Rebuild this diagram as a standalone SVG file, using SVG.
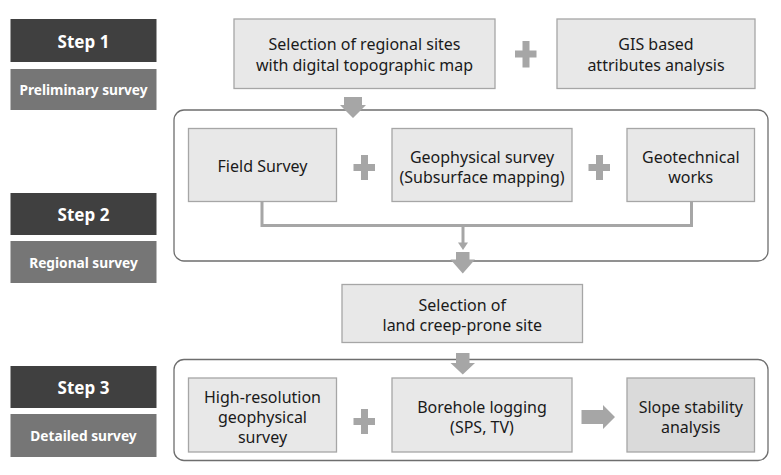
<svg xmlns="http://www.w3.org/2000/svg" width="781" height="475" viewBox="0 0 781 475">
<style>
.step{fill:#404040}
.sub{fill:#767676}
.stept{font-family:"Noto Sans",sans-serif;font-weight:bold;font-size:17px;fill:#fff;text-anchor:middle;dominant-baseline:central}
.subt{font-family:"Noto Sans",sans-serif;font-weight:bold;font-size:13.7px;fill:#fff;text-anchor:middle;dominant-baseline:central}
.node{fill:#e8e8e8;stroke:#a6a6a6;stroke-width:1.3}
.node2{fill:#dadada;stroke:#a6a6a6;stroke-width:1.3}
.t{font-family:"Noto Sans",sans-serif;font-size:16px;fill:#1a1a1a;text-anchor:middle;dominant-baseline:central}
.region{fill:none;stroke:#6e6e6e;stroke-width:1.3}
.g{fill:#a6a6a6}
.ln{fill:none;stroke:#a6a6a6;stroke-width:3}
</style>
<rect width="781" height="475" fill="#fff"/>
<g id="step1"><rect class="step" x="10.5" y="19" width="146" height="43"/><text class="stept" x="83.5" y="41">Step 1</text></g>
<g id="preliminary"><rect class="sub" x="10.5" y="69" width="146" height="41"/><text class="subt" x="83.5" y="89.5">Preliminary survey</text></g>
<g id="step2"><rect class="step" x="10.5" y="193" width="146" height="42"/><text class="stept" x="83.5" y="214">Step 2</text></g>
<g id="regional"><rect class="sub" x="10.5" y="241" width="146" height="42"/><text class="subt" x="83.5" y="262">Regional survey</text></g>
<g id="step3"><rect class="step" x="10.5" y="366" width="146" height="42"/><text class="stept" x="83.5" y="387">Step 3</text></g>
<g id="detailed"><rect class="sub" x="10.5" y="414" width="146" height="43"/><text class="subt" x="83.5" y="435.5">Detailed survey</text></g>

<g id="region2"><rect class="region" x="174" y="110" width="594" height="151" rx="10"/></g>
<g id="region3"><rect class="region" x="174" y="359.5" width="594" height="101" rx="10"/></g>

<g id="connectors">
<polyline class="ln" points="262,202 262,225.5 691.5,225.5 691.5,202"/>
<line class="ln" x1="463" y1="225.5" x2="463" y2="244"/>
<polygon class="g" points="458,242.5 468,242.5 463,250"/>
<polygon class="g" points="344,97 362,97 362,105 366,105 353,118 340,105 344,105"/>
<polygon class="g" points="456,252 469.5,252 469.5,259.5 475,259.5 462.75,273.5 450.5,259.5 456,259.5"/>
<polygon class="g" points="456,353 469.5,353 469.5,363 475,363 462.75,374.5 450.5,363 456,363"/>
<polygon class="g" points="581.5,410 603,410 603,405 615,417 603,429 603,424 581.5,424"/>
<path class="g" d="M522.5 41h7v9.5h7v7h-7v10h-7v-10h-7.5v-7h7.5z"/>
<path class="g" d="M361 155h7v9h7v7h-7v9h-7v-9h-7.5v-7h7.5z"/>
<path class="g" d="M596 155h7v9h7v7h-7v9h-7v-9h-7.5v-7h7.5z"/>
<path class="g" d="M361 409h7v9h7v7h-7v9h-7v-9h-7.5v-7h7.5z"/>
</g>

<g id="n-selection"><rect class="node" x="234" y="19" width="261" height="69.5"/><text class="t" x="364.5" y="44">Selection of regional sites</text><text class="t" x="364.5" y="65">with digital topographic map</text></g>
<g id="n-gis"><rect class="node" x="557" y="19" width="198" height="69.5"/><text class="t" x="656" y="44">GIS based</text><text class="t" x="656" y="65">attributes analysis</text></g>
<g id="n-field"><rect class="node" x="188.5" y="128.5" width="148" height="73"/><text class="t" x="262.5" y="166">Field Survey</text></g>
<g id="n-geophys"><rect class="node" x="392" y="128.5" width="180" height="73"/><text class="t" x="482" y="156.5">Geophysical survey</text><text class="t" x="482" y="176.5">(Subsurface mapping)</text></g>
<g id="n-geotech"><rect class="node" x="627" y="128.5" width="127.5" height="73"/><text class="t" x="690.75" y="156.5">Geotechnical</text><text class="t" x="690.75" y="176.5">works</text></g>
<g id="n-creep"><rect class="node" x="342" y="284.5" width="240.5" height="58"/><text class="t" x="462.25" y="304.5">Selection of</text><text class="t" x="462.25" y="324.5">land creep-prone site</text></g>
<g id="n-highres"><rect class="node" x="188.5" y="378" width="148" height="74"/><text class="t" x="262.5" y="396.5">High-resolution</text><text class="t" x="262.5" y="416.5">geophysical</text><text class="t" x="262.5" y="436.5">survey</text></g>
<g id="n-borehole"><rect class="node" x="392" y="378" width="180" height="74"/><text class="t" x="482" y="406.5">Borehole logging</text><text class="t" x="482" y="426.5">(SPS, TV)</text></g>
<g id="n-slope"><rect class="node2" x="627" y="378" width="127.5" height="74"/><text class="t" x="690.75" y="406.5">Slope stability</text><text class="t" x="690.75" y="426.5">analysis</text></g>
</svg>
